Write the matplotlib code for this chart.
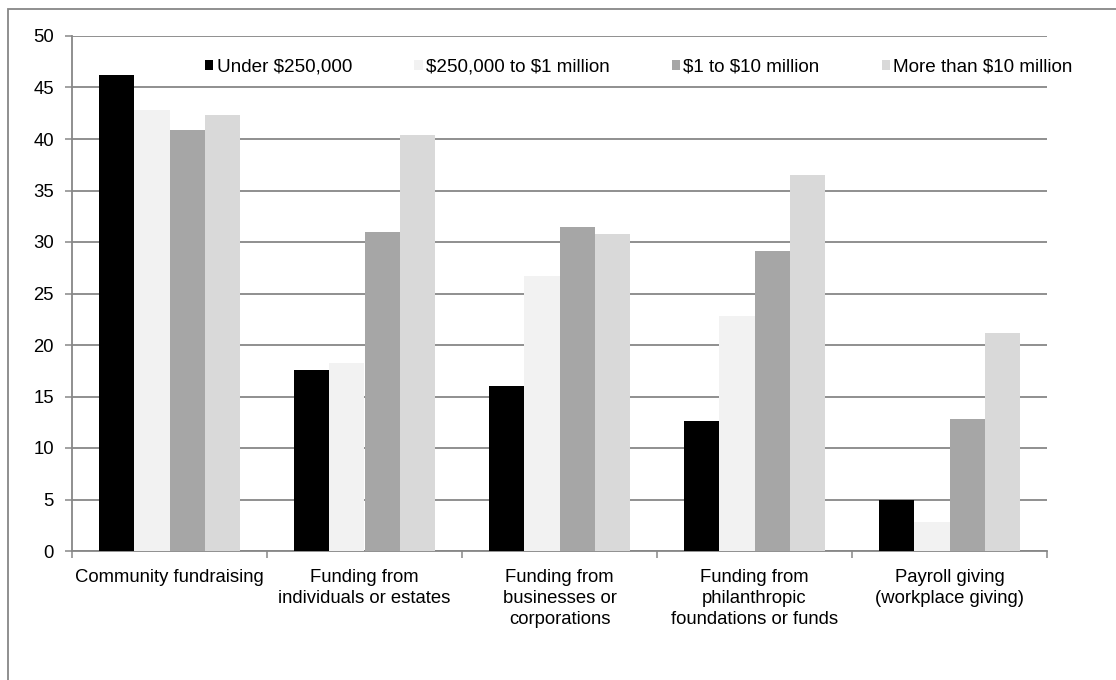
import numpy as np
import matplotlib
matplotlib.use("Agg")
import matplotlib.pyplot as plt
from matplotlib.patches import Rectangle

plt.rcParams['font.family'] = ['Liberation Sans', 'DejaVu Sans']
plt.rcParams['text.parse_math'] = False

categories = ["Community fundraising",
              "Funding from\nindividuals or estates",
              "Funding from\nbusinesses or\ncorporations",
              "Funding from\nphilanthropic\nfoundations or funds",
              "Payroll giving\n(workplace giving)"]
series_names = ["Under $250,000", "$250,000 to $1 million",
                "$1 to $10 million", "More than $10 million"]
under_250k = [46.2, 17.6, 16.0, 12.6, 5.0]
k250_to_1m = [42.8, 18.3, 26.7, 22.8, 2.8]
m1_to_10m = [40.9, 31.0, 31.5, 29.1, 12.8]
over_10m = [42.3, 40.4, 30.8, 36.5, 21.2]
yticks = [0, 5, 10, 15, 20, 25, 30, 35, 40, 45, 50]

colors = ["#000000", "#f2f2f2", "#a6a6a6", "#d9d9d9"]
grid_col = "#878787"
fs = 13.3

W, H = 1116, 680
fig = plt.figure(figsize=(W / 100, H / 100), dpi=100)
ax = fig.add_axes([72 / W, 1 - 551 / H, (1047 - 72) / W, (551 - 36) / H])

# outer chart border
fig.patches.append(Rectangle((8 / W, -0.1), 1.2, 1.1 - 9 / H,
                             transform=fig.transFigure, fill=False,
                             edgecolor=grid_col, linewidth=1.3))

x = np.arange(len(categories))
bw = 0.18
all_series = [under_250k, k250_to_1m, m1_to_10m, over_10m]
for i, (vals, name) in enumerate(zip(all_series, series_names)):
    ax.bar(x + (i - 1.5) * bw, vals, width=bw, color=colors[i],
           label=name, zorder=3, linewidth=0)

ax.set_xlim(-0.5, len(categories) - 0.5)
ax.set_ylim(0, 50)
ax.set_yticks(yticks)
ax.set_yticklabels([str(v) for v in yticks], fontsize=fs)
ax.yaxis.grid(True, color=grid_col, linewidth=1.3, zorder=0)
ax.set_axisbelow(True)

# category labels centred, ticks on the category boundaries
ax.set_xticks(x)
ax.set_xticklabels(categories, fontsize=fs, va='top', linespacing=1.3)
ax.tick_params(axis='x', which='major', length=0, pad=13)
ax.set_xticks(np.arange(-0.5, len(categories)), minor=True)
ax.tick_params(axis='x', which='minor', length=5, width=1.1, color=grid_col)
ax.tick_params(axis='y', length=5, width=1.1, color=grid_col, pad=8)

for side in ['top', 'right']:
    ax.spines[side].set_visible(False)
for side in ['left', 'bottom']:
    ax.spines[side].set_color(grid_col)
    ax.spines[side].set_linewidth(1.3)

ax.legend(loc='center left', bbox_to_anchor=(205 / W, 1 - 67 / H),
          bbox_transform=fig.transFigure, ncol=4, frameon=False,
          fontsize=13.55, handlelength=0.45, handleheight=0.45,
          handletextpad=0.17, columnspacing=3.3, borderpad=0,
          borderaxespad=0)

fig.savefig("out.png", dpi=100)
